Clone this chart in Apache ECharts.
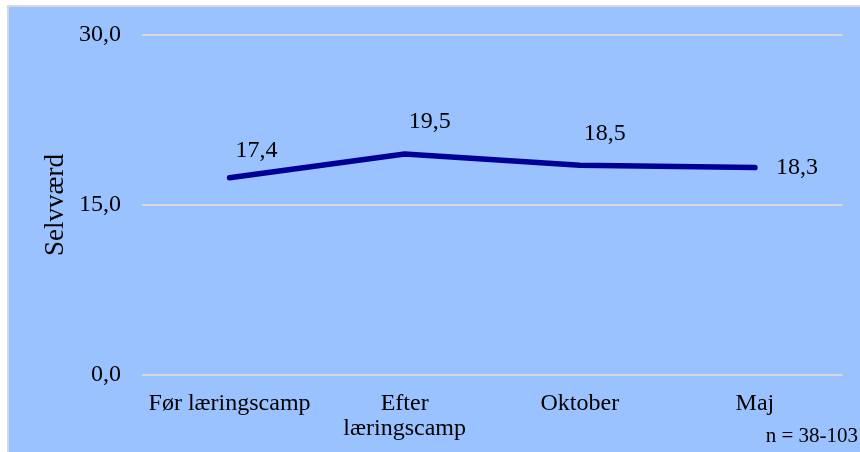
<!DOCTYPE html>
<html>
<head>
<meta charset="utf-8">
<script src="https://cdn.jsdelivr.net/npm/echarts@6/dist/echarts.min.js"></script>
<style>
  html, body { margin: 0; padding: 0; background: #fff; }
  #wrap { position: relative; width: 860px; height: 452px; overflow: hidden; }
  #bg { position: absolute; left: 7px; top: 5px; right: 0; bottom: 0;
        background: #99C2FF; border-left: 2px solid #D9D9D9; border-top: 2px solid #D9D9D9; }
  #chart { position: absolute; left: 0; top: 0; width: 860px; height: 452px; }
</style>
</head>
<body>
<div id="wrap">
  <div id="bg"></div>
  <div id="chart"></div>
</div>
<script>
// Selvværd over tid
const categories = ['Før læringscamp', 'Efter\nlæringscamp', 'Oktober', 'Maj'];
const selvvaerd = [17.4, 19.5, 18.5, 18.3];
const yTicks = [0, 15, 30];

// label placement, as in the original
const labelOffsets = [[27, -27], [25, -32], [25, -32], [42, 0]];

function initChart() {
    const chartDom = document.getElementById('chart');
    const myChart = echarts.init(chartDom, null, { renderer: 'canvas' });

    const fmt = v => v.toFixed(1).replace('.', ',');

    const option = {
        backgroundColor: 'transparent',
        textStyle: {
            fontFamily: '"Liberation Serif", "DejaVu Serif", serif'
        },
        grid: {
            left: 142,
            right: 17.5,
            top: 35,
            bottom: 77
        },
        xAxis: {
            type: 'category',
            data: categories,
            boundaryGap: true,
            axisLine: { show: false },
            axisTick: { show: false },
            axisLabel: {
                fontSize: 24,
                color: '#000',
                margin: 16,
                lineHeight: 25,
                interval: 0
            }
        },
        yAxis: {
            type: 'value',
            min: yTicks[0],
            max: yTicks[yTicks.length - 1],
            interval: 15,
            name: 'Selvværd',
            nameLocation: 'middle',
            nameGap: 73,
            nameMoveOverlap: false,
            nameRotate: 90,
            nameTextStyle: {
                fontSize: 27,
                color: '#000'
            },
            axisLine: { show: false },
            axisTick: { show: false },
            axisLabel: {
                fontSize: 24,
                color: '#000',
                margin: 21,
                formatter: v => fmt(v)
            },
            splitLine: {
                lineStyle: {
                    color: '#D9D9D9',
                    width: 2
                }
            }
        },
        series: [
            {
                name: 'Selvværd',
                type: 'line',
                data: selvvaerd.map((v, i) => ({
                    value: v,
                    label: { offset: labelOffsets[i] }
                })),
                symbol: 'circle',
                symbolSize: 0,
                showSymbol: true,
                itemStyle: { color: '#000099' },
                lineStyle: {
                    color: '#000099',
                    width: 5.5,
                    cap: 'round',
                    join: 'round'
                },
                label: {
                    show: true,
                    position: 'inside',
                    fontSize: 24,
                    color: '#000',
                    formatter: p => fmt(p.value)
                },
                animation: false
            }
        ],
        graphic: [
            {
                type: 'text',
                right: 2,
                top: 426,
                style: {
                    text: 'n = 38-103',
                    fontSize: 21,
                    fill: '#000',
                    fontFamily: '"Liberation Serif", serif'
                }
            }
        ]
    };

    myChart.setOption(option);
    return myChart;
}

initChart();
</script>
</body>
</html>
